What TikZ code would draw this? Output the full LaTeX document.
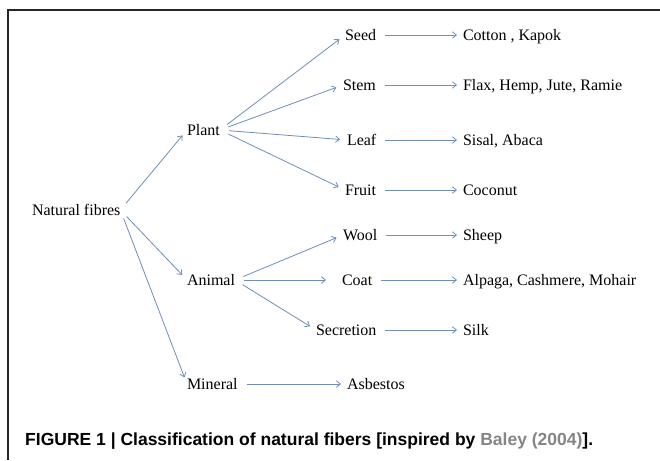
\documentclass[tikz,border=0pt]{standalone}
\usepackage{fontspec}
\setmainfont{Liberation Serif}
\newfontfamily\capfont{Liberation Sans}
\usetikzlibrary{arrows.meta}
\definecolor{arrowblue}{HTML}{6F8FB8}
\definecolor{citegray}{HTML}{858585}

\begin{document}
\begin{tikzpicture}[x=1pt, y=-1pt,
  fibre/.style={anchor=west, inner sep=0pt, outer sep=0pt, text height=10.5pt, text depth=0pt,
    font=\fontsize{16}{19}\selectfont},
  link/.style={draw=arrowblue, line width=0.8pt, -{Straight Barb[length=4pt,width=6.5pt]},
    shorten <=9pt, shorten >=7pt}]
  % Background
  \useasboundingbox (0, 0) rectangle (660, 460);
  \fill[white] (0, 0) rectangle (660, 460);
  \draw[line width=1.5pt, black!85] (8, 460) -- (8, 10) -- (660, 10);

  % Root and main classes
  \node[fibre] (nf) at (32, 210) {Natural fibres};
  \node[fibre] (plant) at (187, 130) {Plant};
  \node[fibre] (animal) at (187, 280) {Animal};
  \node[fibre] (mineral) at (187, 384) {Mineral};

  % Sub classes
  \node[fibre] (seed) at (345, 35) {Seed};
  \node[fibre] (stem) at (343, 85) {Stem};
  \node[fibre] (leaf) at (347, 140) {Leaf};
  \node[fibre] (fruit) at (345, 190) {Fruit};
  \node[fibre] (wool) at (343, 235) {Wool};
  \node[fibre] (coat) at (342, 280) {Coat};
  \node[fibre] (secretion) at (316, 330) {Secretion};

  % Examples
  \node[fibre] (cotton) at (463, 35) {Cotton , Kapok};
  \node[fibre] (flax) at (463, 85) {Flax, Hemp, Jute, Ramie};
  \node[fibre] (sisal) at (463, 140) {Sisal, Abaca};
  \node[fibre] (coconut) at (463, 190) {Coconut};
  \node[fibre] (sheep) at (463, 235) {Sheep};
  \node[fibre] (alpaga) at (463, 280) {Alpaga, Cashmere, Mohair};
  \node[fibre] (silk) at (463, 330) {Silk};
  \node[fibre] (asbestos) at (347, 384) {Asbestos};

  % Connectors
  \foreach \c in {plant, animal, mineral}
    \draw[link] (nf.east) -- (\c.west);
  \foreach \c in {seed, stem, leaf, fruit}
    \draw[link] (plant.east) -- (\c.west);
  \draw[link] (animal.east) -- (wool.west);
  \draw[link, shorten >=16pt] (animal.east) -- (coat.west);
  \draw[link] (animal.east) -- (secretion.west);
  \foreach \a/\b in {seed/cotton, stem/flax, leaf/sisal, fruit/coconut,
                     wool/sheep, coat/alpaga, secretion/silk, mineral/asbestos}
    \draw[link, shorten <=9pt, shorten >=6pt] (\a.east) -- (\b.west);

  % Caption
  \node[anchor=base west, inner sep=0pt, font=\capfont\bfseries\fontsize{17.5}{21}\selectfont]
    (caption) at (25, 445)
    {FIGURE 1 | Classification of natural fibers [inspired by \textcolor{citegray}{Baley (2004)}].};
\end{tikzpicture}
\end{document}
